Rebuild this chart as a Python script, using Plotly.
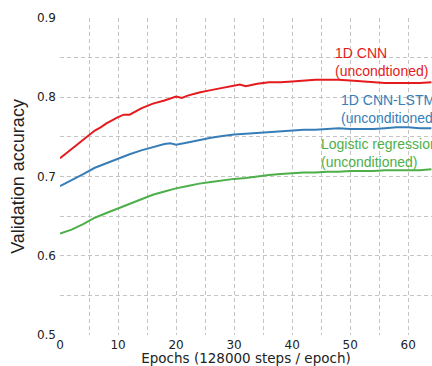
import plotly.graph_objects as go

cnn_epochs = [0, 2, 4, 6, 7, 8, 10, 11, 12, 14, 16, 18, 20, 21, 22, 24, 26, 28, 30, 31, 32, 34, 36, 38, 40,
              42, 44, 46, 48, 50, 52, 54, 56, 58, 60, 62, 64]
cnn_acc = [0.723, 0.735, 0.747, 0.758, 0.762, 0.767, 0.775, 0.778, 0.778, 0.786, 0.792, 0.796, 0.801, 0.799,
           0.802, 0.806, 0.809, 0.812, 0.815, 0.816, 0.814, 0.817, 0.819, 0.819, 0.820,
           0.821, 0.822, 0.822, 0.822, 0.821, 0.820, 0.819, 0.818, 0.818, 0.818, 0.818, 0.819]

lstm_epochs = [0, 2, 4, 6, 8, 10, 12, 14, 16, 18, 19, 20, 22, 24, 26, 28, 30, 32, 34, 36, 38, 40,
               42, 44, 46, 48, 50, 52, 54, 56, 58, 60, 62, 64]
lstm_acc = [0.688, 0.695, 0.703, 0.711, 0.717, 0.722, 0.728, 0.733, 0.737, 0.741, 0.742, 0.740, 0.743,
            0.746, 0.749, 0.751, 0.753, 0.754, 0.755, 0.756, 0.757, 0.758,
            0.759, 0.759, 0.760, 0.761, 0.760, 0.760, 0.760, 0.761, 0.762, 0.762, 0.761, 0.761]

lr_epochs = [0, 2, 4, 6, 8, 10, 12, 14, 16, 18, 20, 22, 24, 26, 28, 30, 32, 34, 36, 38, 40,
             42, 44, 46, 48, 50, 52, 54, 56, 58, 60, 62, 64]
lr_acc = [0.628, 0.633, 0.640, 0.648, 0.654, 0.660, 0.666, 0.672, 0.677, 0.681, 0.685, 0.688, 0.691,
          0.693, 0.695, 0.697, 0.698, 0.700, 0.702, 0.703, 0.704,
          0.705, 0.705, 0.706, 0.706, 0.707, 0.707, 0.707, 0.708, 0.708, 0.708, 0.708, 0.709]

series = [
    ("1D CNN<br>(uncondtioned)", cnn_epochs, cnn_acc, "#e41a1c", 47.1, 0.845),
    ("1D CNN-LSTM<br>(unconditioned)", lstm_epochs, lstm_acc, "#377eb8", 48.1, 0.785),
    ("Logistic regression<br>(unconditioned)", lr_epochs, lr_acc, "#4daf4a", 44.7, 0.730),
]

x_ticks = [0, 10, 20, 30, 40, 50, 60]
y_ticks = [0.5, 0.6, 0.7, 0.8, 0.9]

fig = go.Figure()
for name, xs, ys, color, ax, ay in series:
    fig.add_trace(go.Scatter(x=xs, y=ys, mode="lines", line=dict(color=color, width=2),
                             name=name, showlegend=False))
    fig.add_annotation(x=ax, y=ay, xref="x", yref="y", text=name, showarrow=False,
                       xanchor="left", yanchor="middle", align="left",
                       font=dict(family="Liberation Sans, Arial", size=14, color=color))

grid = dict(showgrid=True, gridcolor="#c4c4c4", griddash="4px,3px", gridwidth=1)
fig.update_layout(
    width=432, height=366,
    margin=dict(l=60, r=0, t=18, b=31),
    plot_bgcolor="white", paper_bgcolor="white",
    xaxis=dict(range=[0, 64.1], tickvals=x_ticks, ticktext=[str(v) for v in x_ticks],
               showline=False, zeroline=False, ticks="", ticklabelstandoff=1,
               tickfont=dict(family="DejaVu Sans", size=12, color="#222"),
               title=dict(text="Epochs (128000 steps / epoch)", standoff=0,
                          font=dict(family="DejaVu Sans", size=13.5, color="#222")),
               minor=dict(dtick=5, tick0=0, showgrid=True, gridcolor="#c4c4c4",
                          griddash="4px,3px", gridwidth=1),
               **grid),
    yaxis=dict(range=[0.5, 0.9], tickvals=y_ticks, ticktext=[f"{v:.1f}" for v in y_ticks],
               showline=False, zeroline=False, ticks="", ticklabelstandoff=3,
               tickfont=dict(family="DejaVu Sans", size=12, color="#222"),
               title=dict(text="Validation accuracy", standoff=7,
                          font=dict(family="Liberation Sans, Arial", size=18, color="#222")),
               minor=dict(dtick=0.05, tick0=0.5, showgrid=True, gridcolor="#c4c4c4",
                          griddash="4px,3px", gridwidth=1),
               **grid),
)

fig.write_html("out.html", config={"displayModeBar": False})

# remove the browser's default page margin so the figure sits at the window origin
with open("out.html", "r", encoding="utf-8") as f:
    html = f.read()
html = html.replace("<head>", "<head><style>html,body{margin:0;padding:0;overflow:hidden;}</style>", 1)
with open("out.html", "w", encoding="utf-8") as f:
    f.write(html)
